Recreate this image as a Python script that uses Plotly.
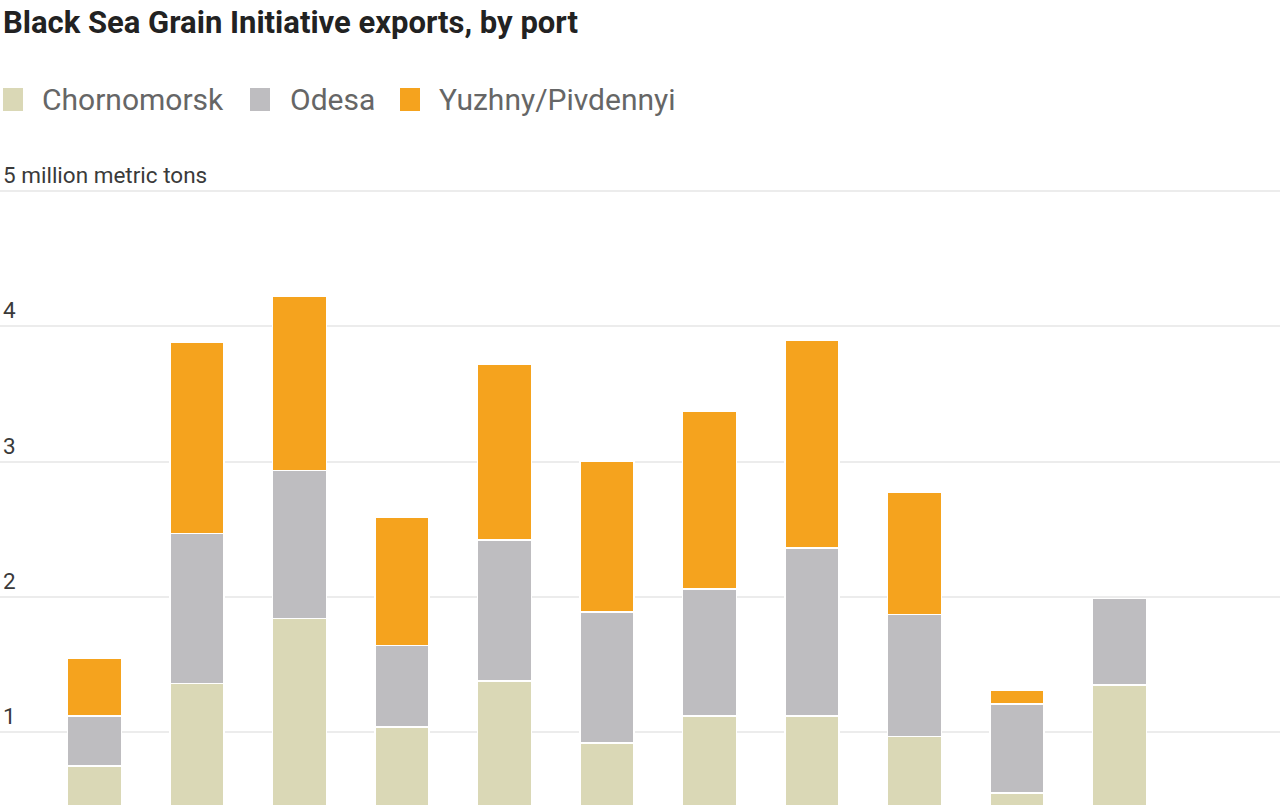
import plotly.graph_objects as go

months = ["Aug 2022", "Sep 2022", "Oct 2022", "Nov 2022", "Dec 2022", "Jan 2023",
          "Feb 2023", "Mar 2023", "Apr 2023", "May 2023", "Jun 2023"]
chornomorsk = [0.75, 1.36, 1.84, 1.04, 1.38, 0.92, 1.12, 1.12, 0.97, 0.55, 1.35]
odesa = [0.37, 1.11, 1.095, 0.60, 1.04, 0.97, 0.94, 1.24, 0.90, 0.66, 0.64]
yuzhny = [0.43, 1.41, 1.285, 0.95, 1.30, 1.11, 1.31, 1.54, 0.90, 0.10, 0.0]
tick_vals = [1, 2, 3, 4, 5]
tick_text = ["1", "2", "3", "4", "5 million metric tons"]
series_names = ["Chornomorsk", "Odesa", "Yuzhny/Pivdennyi"]
colors = ["#dad8b6", "#bebdc0", "#f5a31e"]

W, H = 1280, 805
T = 150  # top margin
PH = H - T  # plot height in px


def py(p):
    """Convert a pixel row in the figure to paper y (relative to plot area)."""
    return (H - p) / PH


fig = go.Figure()
for name, vals, col in zip(series_names, [chornomorsk, odesa, yuzhny], colors):
    fig.add_trace(go.Bar(x=months, y=vals, name=name, marker_color=col,
                         marker_line_color="white", marker_line_width=1.5,
                         showlegend=False))

fig.update_layout(
    width=W, height=H, barmode="stack", bargap=0.473,
    margin=dict(l=0, r=0, t=T, b=0),
    paper_bgcolor="white", plot_bgcolor="white",
    font=dict(family="Roboto", color="#333"),
    title=dict(text="<b>Black Sea Grain Initiative exports, by port</b>",
               x=3 / W, xanchor="left", xref="paper", y=1 - 22 / H, yanchor="middle",
               font=dict(family="Roboto", size=31, color="#222")),
    xaxis=dict(range=[-0.922, 11.566], showticklabels=False, showgrid=False,
               zeroline=False, fixedrange=True),
    yaxis=dict(range=[0.462, 5.303], tickvals=tick_vals, ticktext=tick_text,
               ticklabelposition="inside top", showgrid=True, gridcolor="#ececec",
               gridwidth=1.5, zeroline=False, showline=False, ticks="",
               tickfont=dict(family="Roboto", size=22.5, color="#3a3a3a")),
)

# white mask so the top gridline starts after its unit label (as in the original)
fig.add_shape(type="rect", xref="paper", yref="y", x0=0, x1=208 / W,
              y0=4.97, y1=5.03, fillcolor="white", line_width=0, layer="between")

# Legend drawn as swatches + text
swatch_x = [3, 250, 400]
text_x = [40, 288, 437]
for name, col, sx, tx in zip(series_names, colors, swatch_x, text_x):
    fig.add_shape(type="rect", xref="paper", yref="paper",
                  x0=sx / W, x1=(sx + 20) / W, y0=py(111), y1=py(88),
                  fillcolor=col, line_width=0)
    fig.add_annotation(text=name, xref="paper", yref="paper", x=tx / W, y=py(99),
                       xanchor="left", yanchor="middle", showarrow=False,
                       font=dict(family="Roboto", size=30, color="#666"))

fig.write_html("out.html")
